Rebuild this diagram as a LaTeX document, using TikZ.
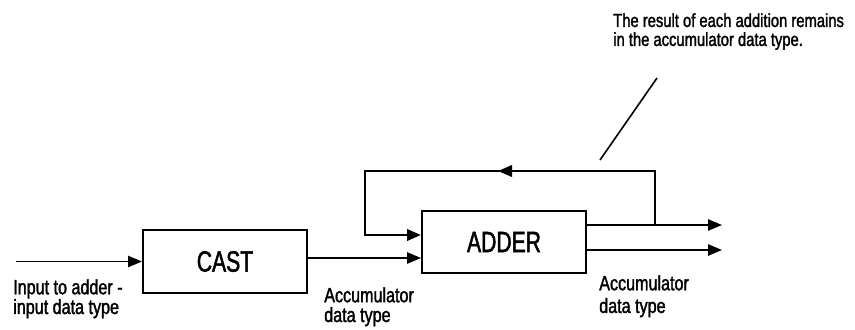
\documentclass[tikz,border=0pt]{standalone}
\usepackage{fontspec}
\setmainfont{Liberation Sans}
\newfontfamily\lblfont{Liberation Sans}[FakeStretch=0.78,FakeBold=1.6]
\newfontfamily\boxfont{Liberation Sans}[FakeStretch=0.72,FakeBold=1.6]
\usetikzlibrary{arrows.meta}
\begin{document}
\begin{tikzpicture}[x=0.75pt,y=-0.75pt,>={Triangle[length=10.5pt,width=8.5pt]},
  blok/.style={draw,line width=1.5pt,minimum width=123pt,minimum height=47pt,
    inner sep=0pt,font=\boxfont\fontsize{22}{22}\selectfont},
  spoj/.style={line width=1.2pt},
  zpet/.style={line width=2pt},
  popis/.style={anchor=north west,inner sep=0pt,align=left,
    font=\lblfont\fontsize{15.5}{14.8}\selectfont}]
  \useasboundingbox (0,0) rectangle (855,329);
  % bloky
  \node[blok] (cast) at (225,261.5) {CAST};
  \node[blok,minimum height=46.5pt] (adder) at (504,242) {ADDER};
  % body vstupu, vystupu a zpetne vazby
  \coordinate (vstup) at (16,261.5);
  \coordinate (inA) at (adder.west |- 0,235);
  \coordinate (inB) at (adder.west |- 0,258);
  \coordinate (outA) at (adder.east |- 0,225);
  \coordinate (outB) at (adder.east |- 0,250);
  \coordinate (endA) at (722,225);
  \coordinate (endB) at (722,250);
  \coordinate (odb) at (655,225);
  \coordinate (horni) at (365,171);
  \coordinate (sipka) at (498,171);
  \coordinate (pozn1) at (600,160);
  \coordinate (pozn2) at (657,78);
  % spoje
  \draw[spoj,->] (vstup) -- (cast);
  \draw[spoj,->] (cast.east |- inB) -- (inB);
  \draw[spoj,->] (outA) -- (endA);
  \draw[spoj,->] (outB) -- (endB);
  % zpetna vazba scitacky
  \draw[zpet,->] (odb) |- (horni) |- (inA);
  \draw[zpet,->] (odb) |- (sipka);
  % popisky
  \node[popis] (lblIn) at (13,279) {Input to adder -\\input data type};
  \node[popis] (lblMid) at (324,287) {Accumulator\\data type};
  \node[popis,font=\lblfont\fontsize{15.5}{17}\selectfont] (lblOut) at (599,275) {Accumulator\\data type};
  \node[popis,font=\lblfont\fontsize{14.2}{14.2}\selectfont] (note) at (613,13)
    {The result of each addition remains\\in the accumulator data type.};
  \draw[spoj] (pozn1) -- (pozn2);
\end{tikzpicture}
\end{document}
